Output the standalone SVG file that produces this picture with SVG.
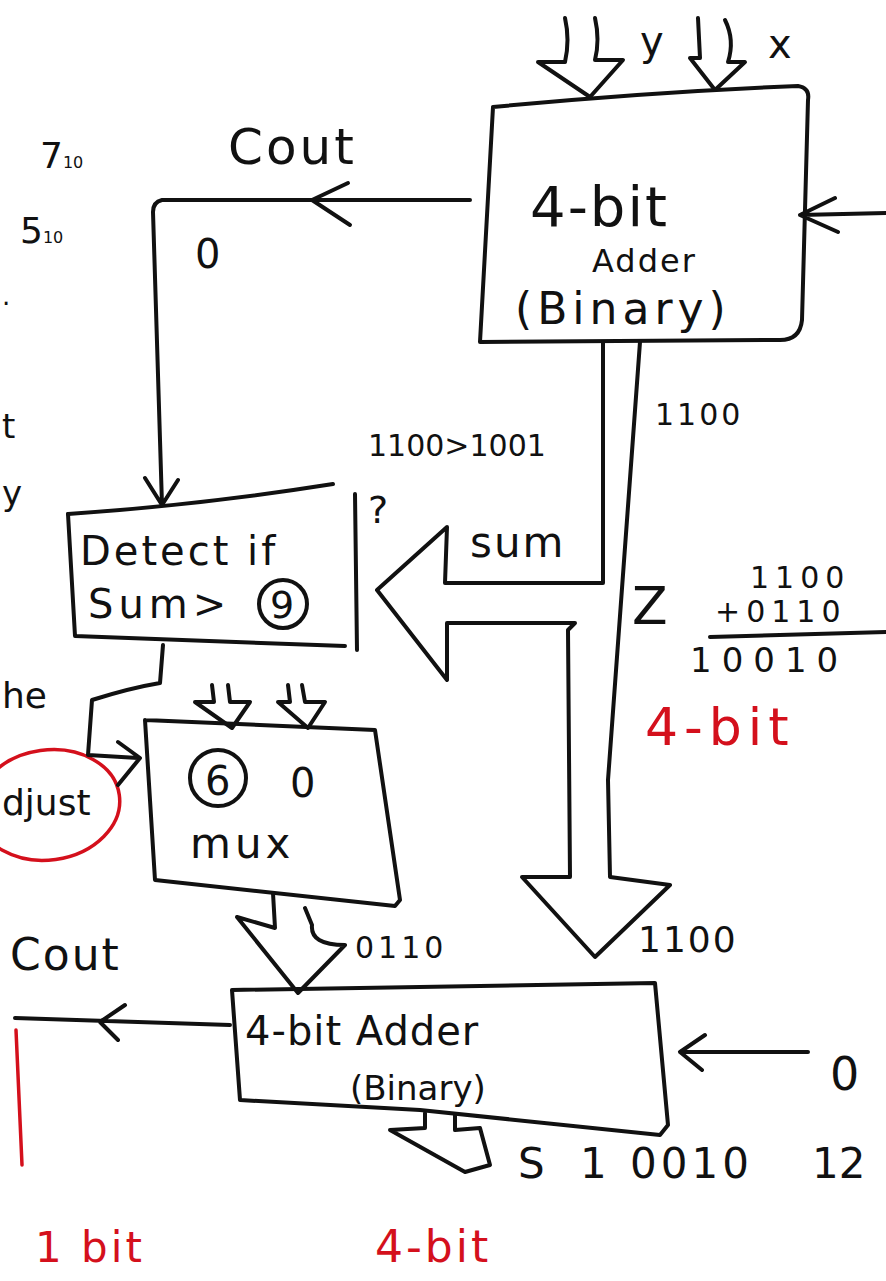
<svg xmlns="http://www.w3.org/2000/svg" width="886" height="1281" viewBox="0 0 886 1281">
<style>
.s{fill:none;stroke:#111;stroke-width:4;stroke-linecap:round;stroke-linejoin:round}
.r{fill:none;stroke:#d4101c;stroke-width:3.5;stroke-linecap:round;stroke-linejoin:round}
.t{font-family:"DejaVu Sans","Liberation Sans",sans-serif;fill:#111}
.rt{font-family:"DejaVu Sans","Liberation Sans",sans-serif;fill:#d4101c}
</style>
<rect width="886" height="1281" fill="#fff"/>

<g id="margin-notes">
<text class="t" x="40" y="168" font-size="36">7<tspan font-size="16">10</tspan></text>
<text class="t" x="20" y="243" font-size="36">5<tspan font-size="16">10</tspan></text>
<text class="t" x="2" y="305" font-size="26">.</text>
<text class="t" x="2" y="438" font-size="34">t</text>
<text class="t" x="2" y="505" font-size="34">y</text>
<text class="t" x="2" y="708" font-size="36">he</text>
<text class="t" x="2" y="815" font-size="36">djust</text>
<ellipse class="r" cx="48" cy="805" rx="72" ry="55" transform="rotate(-8 48 805)"/>
</g>

<g id="adder-top">
<path class="s" d="M493,107 Q650,92 798,86 Q810,88 808,100 L802,320 Q800,340 780,340 L480,342 L493,107"/>
<text class="t" x="530" y="226" font-size="56" letter-spacing="2">4-bit</text>
<text class="t" x="592" y="272" font-size="32" letter-spacing="2">Adder</text>
<text class="t" x="515" y="324" font-size="44" letter-spacing="5">(Binary)</text>
</g>

<g id="detect">
<path class="s" d="M68,514 Q200,505 333,484"/>
<path class="s" d="M68,514 L75,636 L345,646"/>
<path class="s" d="M355,494 L357,650"/>
<text class="t" x="80" y="565" font-size="40" letter-spacing="3">Detect if</text>
<text class="t" x="88" y="618" font-size="40" letter-spacing="5">Sum&gt;</text>
<text class="t" x="270" y="618" font-size="38">9</text>
<circle class="s" cx="283" cy="604" r="24" stroke-width="3"/>
</g>

<g id="mux">
<path class="s" d="M145,720 L375,730 L400,900 L395,906 L155,880 L145,720"/>
<circle class="s" cx="218" cy="778" r="28" stroke-width="3.5"/>
<text class="t" x="205" y="795" font-size="40">6</text>
<text class="t" x="290" y="797" font-size="40">0</text>
<text class="t" x="190" y="858" font-size="42" letter-spacing="4">mux</text>
</g>

<g id="adder-bottom">
<path class="s" d="M232,990 L655,983 L668,1125 L660,1135 Q520,1120 420,1110 L240,1100 L232,990"/>
<text class="t" x="245" y="1045" font-size="40" letter-spacing="1">4-bit Adder</text>
<text class="t" x="350" y="1100" font-size="34">(Binary)</text>
</g>

<g id="connectors">
<!-- top inputs y and x -->
<path class="s" d="M565,18 Q570,40 565,62 L538,62 L590,97 L623,60 L595,60 Q600,40 595,18"/>
<path class="s" d="M698,18 L700,58 L690,58 L715,90 L745,62 L728,62 Q735,40 725,20"/>
<text class="t" x="640" y="55" font-size="40">y</text>
<text class="t" x="768" y="58" font-size="40">x</text>
<!-- right carry in top -->
<path class="s" d="M886,213 L800,215 M835,198 L800,215 L838,232"/>
<!-- Cout top to detect -->
<path class="s" d="M470,200 L162,200 Q153,202 153,212 L162,505 M145,478 L162,505 L178,480"/>
<path class="s" d="M348,183 L312,200 L350,225"/>
<text class="t" x="228" y="164" font-size="50" letter-spacing="3">Cout</text>
<text class="t" x="195" y="268" font-size="40">0</text>
<!-- big sum bus -->
<path class="s" d="M603,342 L603,583 L445,583 L447,527 L377,590 L447,680 L447,623 L575,623 L568,630 L570,877 L522,877 L595,957 L670,885 L610,877 L608,780 L640,342"/>
<text class="t" x="470" y="557" font-size="42" letter-spacing="2">sum</text>
<text class="t" x="655" y="425" font-size="30" letter-spacing="3">1100</text>
<text class="t" x="368" y="456" font-size="30">1100&gt;1001</text>
<text class="t" x="368" y="523" font-size="38">?</text>
<text class="t" x="632" y="624" font-size="52">Z</text>
<text class="t" x="750" y="588" font-size="30" letter-spacing="6">1100</text>
<text class="t" x="715" y="622" font-size="30" letter-spacing="6">+0110</text>
<path class="s" d="M710,637 L886,632" stroke-width="3.5"/>
<text class="t" x="690" y="672" font-size="34" letter-spacing="10">10010</text>
<text class="rt" x="645" y="745" font-size="52" letter-spacing="6">4-bit</text>
<text class="t" x="638" y="952" font-size="36" letter-spacing="2">1100</text>
<!-- detect to mux -->
<path class="s" d="M163,645 L160,683 Q130,688 92,700 L88,755 L138,758 M118,742 L140,758 L118,785"/>
<!-- mux inputs -->
<path class="s" d="M212,685 L214,702 L195,702 L232,728 L250,702 L230,702 L228,685"/>
<path class="s" d="M288,685 L290,702 L278,702 L308,728 L325,702 L305,702 L302,685"/>
<!-- mux output -->
<path class="s" d="M273,893 L275,928 L237,917 L298,993 L345,945 Q310,945 312,925 L305,908"/>
<text class="t" x="355" y="958" font-size="30" letter-spacing="4">0110</text>
<!-- bottom Cout -->
<path class="s" d="M230,1025 L15,1018 M125,1005 L100,1022 L118,1040"/>
<text class="t" x="10" y="970" font-size="44" letter-spacing="2">Cout</text>
<!-- bottom right carry -->
<path class="s" d="M808,1052 L680,1052 M705,1035 L680,1052 L702,1070"/>
<text class="t" x="830" y="1090" font-size="46">0</text>
<!-- bottom output -->
<path class="s" d="M425,1113 L425,1128 L390,1130 L465,1172 L490,1165 L480,1128 L455,1130 L455,1115"/>
<text class="t" x="518" y="1178" font-size="42">S<tspan x="580">1</tspan><tspan x="630" letter-spacing="4">0010</tspan><tspan x="812">12</tspan></text>
<!-- red notes -->
<path class="r" d="M16,1030 L22,1165"/>
<text class="rt" x="35" y="1262" font-size="42" letter-spacing="3">1 bit</text>
<text class="rt" x="375" y="1262" font-size="44" letter-spacing="3">4-bit</text>
</g>
</svg>
